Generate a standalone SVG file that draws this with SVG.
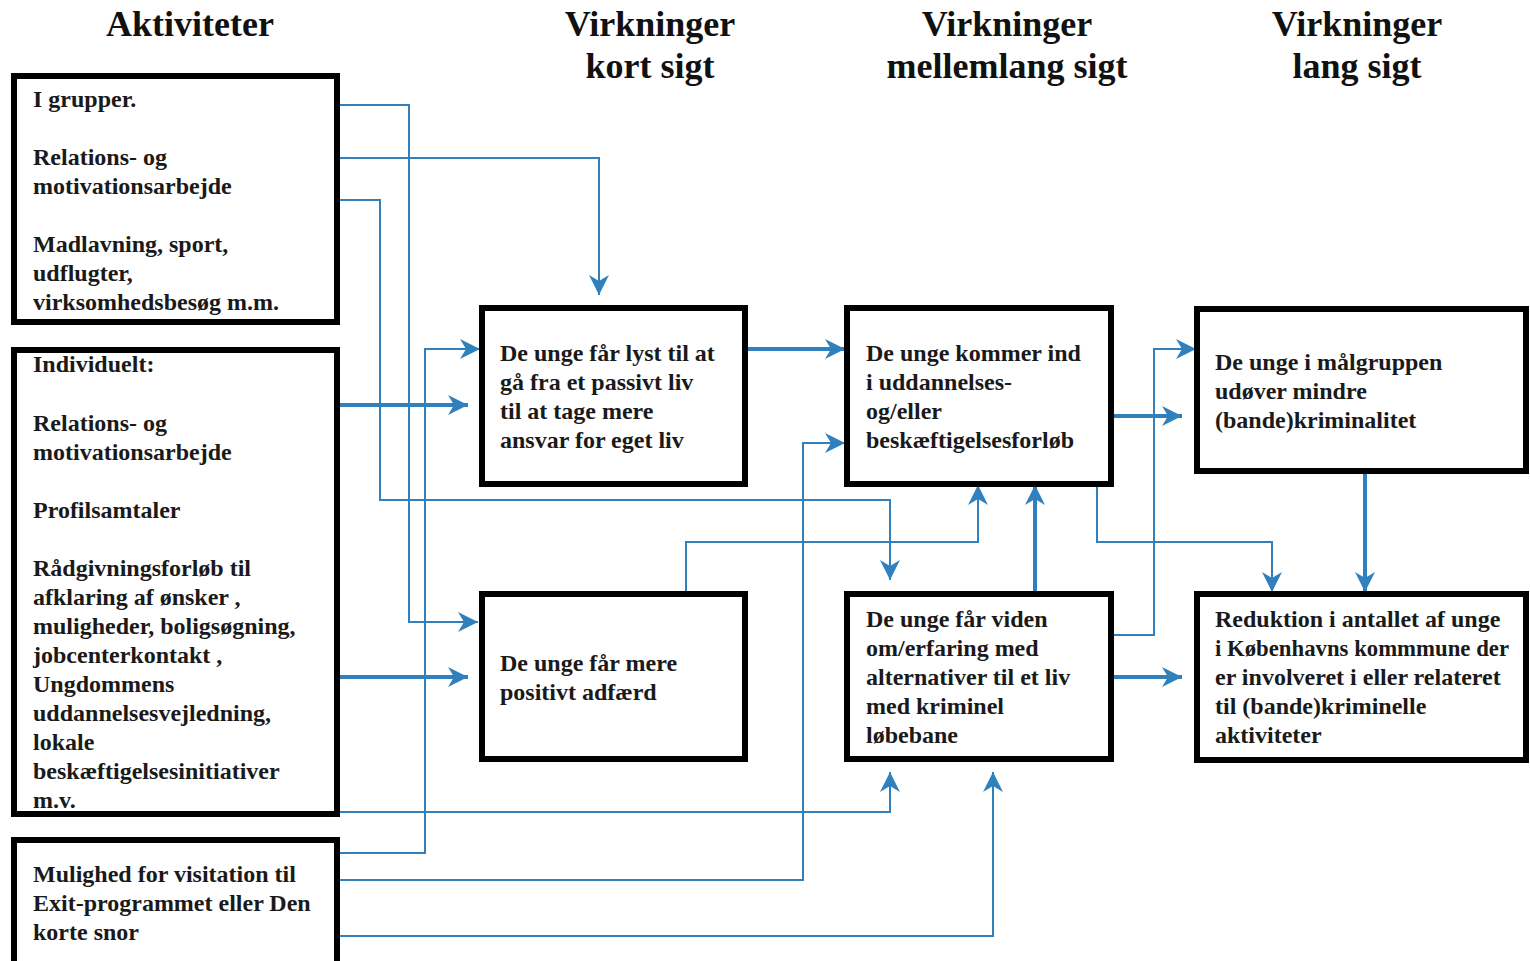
<svg xmlns="http://www.w3.org/2000/svg" width="1530" height="961" viewBox="0 0 1530 961">
<style>
.bg{fill:#fff}
.box{fill:#fff;stroke:#000;stroke-width:6}
.t{font-family:"Liberation Serif","Times New Roman",serif;font-size:24px;font-weight:bold;fill:#1a1a1a}
.b{font-weight:bold}
.h{font-family:"Liberation Serif","Times New Roman",serif;font-size:36px;font-weight:bold;fill:#111;text-anchor:middle}
.c{fill:none;stroke:#2F80BC;stroke-width:2}
.k{fill:none;stroke:#2F80BC;stroke-width:4}
</style>
<defs>
<marker id="ah" markerUnits="userSpaceOnUse" markerWidth="24" markerHeight="24" viewBox="0 0 24 24" refX="22" refY="12" orient="auto">
<path d="M2,2 L22,12 L2,22 L8,12 Z" fill="#2F80BC"/>
</marker>
</defs>
<rect class="bg" width="1530" height="961"/>
<g id="headers">
<text class="h" x="190" y="36">Aktiviteter</text>
<text class="h" x="650" y="36">Virkninger</text>
<text class="h" x="650" y="78">kort sigt</text>
<text class="h" x="1007" y="36">Virkninger</text>
<text class="h" x="1007" y="78">mellemlang sigt</text>
<text class="h" x="1357" y="36">Virkninger</text>
<text class="h" x="1357" y="78">lang sigt</text>
</g>
<g id="connectors">
<path class="c" d="M338,105 H409 V622 H478" marker-end="url(#ah)"/>
<path class="c" d="M338,158 H599 V295" marker-end="url(#ah)"/>
<path class="c" d="M338,200 H380 V500 H890 V580" marker-end="url(#ah)"/>
<path class="k" d="M338,405 H468" marker-end="url(#ah)"/>
<path class="k" d="M338,677 H468" marker-end="url(#ah)"/>
<path class="c" d="M338,812 H890 V772" marker-end="url(#ah)"/>
<path class="c" d="M338,853 H425 V349 H480" marker-end="url(#ah)"/>
<path class="c" d="M338,880 H803 V443 H845" marker-end="url(#ah)"/>
<path class="c" d="M338,936 H993 V772" marker-end="url(#ah)"/>
<path class="k" d="M746,349 H845" marker-end="url(#ah)"/>
<path class="c" d="M686,594 V542 H978 V485" marker-end="url(#ah)"/>
<path class="k" d="M1035,594 V485" marker-end="url(#ah)"/>
<path class="k" d="M1112,416 H1182" marker-end="url(#ah)"/>
<path class="c" d="M1097,485 V542 H1272 V592" marker-end="url(#ah)"/>
<path class="c" d="M1112,635 H1154 V349 H1196" marker-end="url(#ah)"/>
<path class="k" d="M1112,677 H1182" marker-end="url(#ah)"/>
<path class="k" d="M1365,473 V592" marker-end="url(#ah)"/>
</g>
<g id="a1">
<rect class="box" x="14" y="76" width="323" height="246"/>
<text class="t b" x="33" y="107">I grupper.</text>
<text class="t" x="33" y="165">Relations- og</text>
<text class="t" x="33" y="194">motivationsarbejde</text>
<text class="t" x="33" y="252">Madlavning, sport,</text>
<text class="t" x="33" y="281">udflugter,</text>
<text class="t" x="33" y="310">virksomhedsbesøg m.m.</text>
</g>
<g id="a2">
<text class="t b" x="33" y="372">Individuelt:</text>
<text class="t" x="33" y="431">Relations- og</text>
<text class="t" x="33" y="460">motivationsarbejde</text>
<text class="t" x="33" y="518">Profilsamtaler</text>
<text class="t" x="33" y="576">Rådgivningsforløb til</text>
<text class="t" x="33" y="605">afklaring af ønsker ,</text>
<text class="t" x="33" y="634">muligheder, boligsøgning,</text>
<text class="t" x="33" y="663">jobcenterkontakt ,</text>
<text class="t" x="33" y="692">Ungdommens</text>
<text class="t" x="33" y="721">uddannelsesvejledning,</text>
<text class="t" x="33" y="750">lokale</text>
<text class="t" x="33" y="779">beskæftigelsesinitiativer</text>
<text class="t" x="33" y="808">m.v.</text>
<rect x="14" y="350" width="323" height="464" fill="none" stroke="#000" stroke-width="6"/>
</g>
<g id="a3">
<rect class="box" x="14" y="840" width="323" height="140"/>
<text class="t" x="33" y="882">Mulighed for visitation til</text>
<text class="t" x="33" y="911">Exit-programmet eller Den</text>
<text class="t" x="33" y="940">korte snor</text>
</g>
<g id="k1">
<rect class="box" x="482" y="308" width="263" height="176"/>
<text class="t" x="500" y="361">De unge får lyst til at</text>
<text class="t" x="500" y="390">gå fra et passivt liv</text>
<text class="t" x="500" y="419">til at tage mere</text>
<text class="t" x="500" y="448">ansvar for eget liv</text>
</g>
<g id="k2">
<rect class="box" x="482" y="594" width="263" height="165"/>
<text class="t" x="500" y="671">De unge får mere</text>
<text class="t" x="500" y="700">positivt adfærd</text>
</g>
<g id="m1">
<rect class="box" x="847" y="308" width="264" height="176"/>
<text class="t" x="866" y="361">De unge kommer ind</text>
<text class="t" x="866" y="390">i uddannelses-</text>
<text class="t" x="866" y="419">og/eller</text>
<text class="t" x="866" y="448">beskæftigelsesforløb</text>
</g>
<g id="m2">
<rect class="box" x="847" y="594" width="264" height="165"/>
<text class="t" x="866" y="627">De unge får viden</text>
<text class="t" x="866" y="656">om/erfaring med</text>
<text class="t" x="866" y="685">alternativer til et liv</text>
<text class="t" x="866" y="714">med kriminel</text>
<text class="t" x="866" y="743">løbebane</text>
</g>
<g id="l1">
<rect class="box" x="1197" y="309" width="329" height="162"/>
<text class="t" x="1215" y="370">De unge i målgruppen</text>
<text class="t" x="1215" y="399">udøver mindre</text>
<text class="t" x="1215" y="428">(bande)kriminalitet</text>
</g>
<g id="l2">
<rect class="box" x="1197" y="594" width="329" height="166"/>
<text class="t" x="1215" y="627">Reduktion i antallet af unge</text>
<text class="t" x="1215" y="656" textLength="294" lengthAdjust="spacingAndGlyphs">i Københavns kommmune der</text>
<text class="t" x="1215" y="685">er involveret i eller relateret</text>
<text class="t" x="1215" y="714">til (bande)kriminelle</text>
<text class="t" x="1215" y="743">aktiviteter</text>
</g>
</svg>
